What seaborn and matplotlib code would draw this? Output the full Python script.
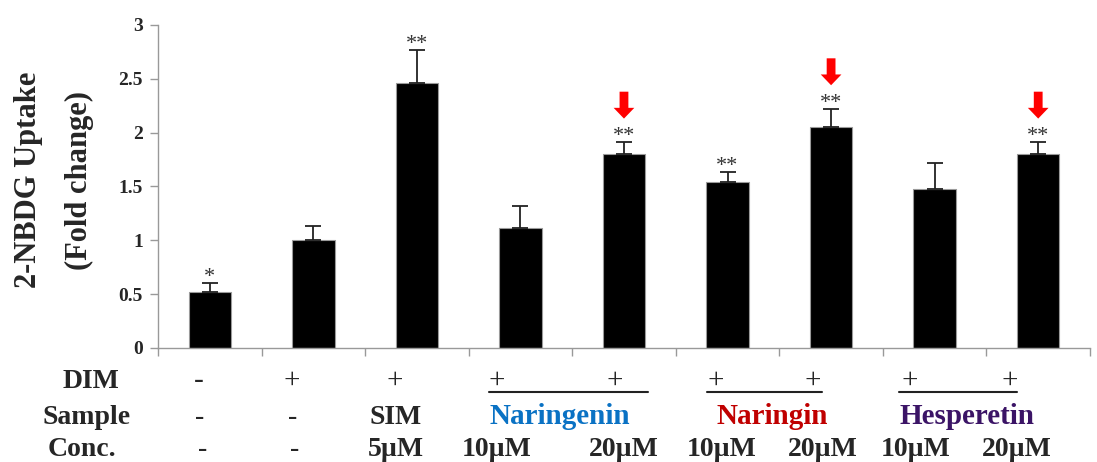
import numpy as np
import pandas as pd
import matplotlib
matplotlib.use('Agg')
import matplotlib.pyplot as plt
import matplotlib.transforms as mtransforms
from matplotlib.patches import FancyArrow
import seaborn as sns

# data
conditions = ['Control', 'DIM', 'SIM 5µM', 'Naringenin 10µM', 'Naringenin 20µM',
              'Naringin 10µM', 'Naringin 20µM', 'Hesperetin 10µM', 'Hesperetin 20µM']
uptake = [0.52, 1.00, 2.46, 1.11, 1.80, 1.54, 2.05, 1.48, 1.80]
sem = [0.08, 0.13, 0.31, 0.21, 0.11, 0.09, 0.17, 0.24, 0.11]
signif = ['*', '', '**', '', '**', '**', '**', '', '**']
marked = [False, False, False, False, True, False, True, False, True]

dim_row = ['-', '+', '+', '+', '+', '+', '+', '+', '+']
sample_row = ['-', '-', 'SIM']
sample_groups = ['Naringenin', 'Naringin', 'Hesperetin']
group_colors = ['#0a72c4', '#c00000', '#3b1466']
conc_row = ['-', '-', '5µM', '10µM', '20µM', '10µM', '20µM', '10µM', '20µM']

sns.set_style('white')
plt.rcParams['font.family'] = ['Liberation Serif', 'DejaVu Serif']
plt.rcParams['font.weight'] = 'bold'

fig = plt.figure(figsize=(10.97, 4.62), dpi=100)
ax = fig.add_axes([0.144, 0.247, 0.8496, 0.699])

df = pd.DataFrame({'cond': conditions, 'uptake': uptake})
sns.barplot(data=df, x='cond', y='uptake', order=conditions, color='black',
            width=0.41, edgecolor='#9a9a9a', linewidth=0.8, saturation=1,
            errorbar=None, ax=ax)
x = np.arange(len(conditions))
ax.errorbar(x, uptake, yerr=[np.zeros(len(sem)), sem], fmt='none',
            ecolor='#222222', elinewidth=1.3, capsize=5.5, capthick=1.3)

# significance stars and red arrows
for i in range(len(conditions)):
    top = uptake[i] + sem[i]
    if signif[i]:
        ax.text(x[i], top + 0.01, signif[i], ha='center', va='baseline',
                fontsize=16, fontweight='normal', color='#333333')
    if marked[i]:
        ax.add_patch(FancyArrow(x[i], top + 0.47, 0, -0.25, width=0.085,
                                head_width=0.2, head_length=0.1,
                                length_includes_head=True, color='red', lw=0))

ax.set_ylim(0, 3)
ax.set_xlim(-0.5, len(conditions) - 0.5)
ax.set_yticks([0, 0.5, 1, 1.5, 2, 2.5, 3])
ax.set_yticklabels(['0', '0.5', '1', '1.5', '2', '2.5', '3'], fontsize=14, fontweight='bold')
ax.set_xticks(np.arange(-0.5, len(conditions), 1))
ax.set_xticklabels([])
ax.tick_params(axis='both', direction='out', length=6, width=1, color='#999999',
               bottom=True, left=True, pad=5)
ax.set_xlabel('')
ax.set_ylabel('')
for s in ['top', 'right']:
    ax.spines[s].set_visible(False)
for s in ['left', 'bottom']:
    ax.spines[s].set_color('#999999')
    ax.spines[s].set_linewidth(1)

fig.text(0.026, 0.61, '2-NBDG Uptake', rotation=90, ha='center', va='center', fontsize=22)
fig.text(0.072, 0.61, '(Fold change)', rotation=90, ha='center', va='center', fontsize=22)

# treatment table below the axis
trans = mtransforms.blended_transform_factory(ax.transData, fig.transFigure)
dim_x = [-0.11, 0.79, 1.79, 2.77, 3.91, 4.89, 5.82, 6.76, 7.72]
conc_x = [-0.07, 0.82, 1.80, 2.77, 4.00, 4.94, 5.92, 6.82, 7.79]
sample_x = [-0.10, 0.80, 1.79]
group_x = [3.38, 5.43, 7.31]
lines_x = [(2.70, 4.23), (4.80, 5.91), (6.66, 7.80)]
y_dim, y_sample, y_conc = 0.175, 0.083, 0.012
fs = 20

fig.text(63 / 1097, y_dim, 'DIM', ha='left', va='center', fontsize=fs)
fig.text(43 / 1097, y_sample, 'Sample', ha='left', va='baseline', fontsize=fs)
fig.text(48 / 1097, y_conc, 'Conc.', ha='left', va='baseline', fontsize=fs)

for xi, s in zip(dim_x, dim_row):
    fig.text(xi, y_dim, s, transform=trans, ha='center', va='center',
             fontsize=fs + 1, fontweight='normal')
for xi, s in zip(sample_x, sample_row):
    fig.text(xi, y_sample, s, transform=trans, ha='center', va='baseline',
             fontsize=fs, fontweight='normal' if s == '-' else 'bold')
for xi, s, c in zip(group_x, sample_groups, group_colors):
    fig.text(xi, y_sample, s, transform=trans, ha='center', va='baseline',
             fontsize=fs + 1, color=c)
for xi, s in zip(conc_x, conc_row):
    fig.text(xi, y_conc, s, transform=trans, ha='center', va='baseline',
             fontsize=fs, fontweight='normal' if s == '-' else 'bold')
for x0, x1 in lines_x:
    fig.add_artist(plt.Line2D([x0, x1], [0.151, 0.151], transform=trans,
                              color='#222222', lw=1.5))

fig.savefig('out.png', dpi=100)
